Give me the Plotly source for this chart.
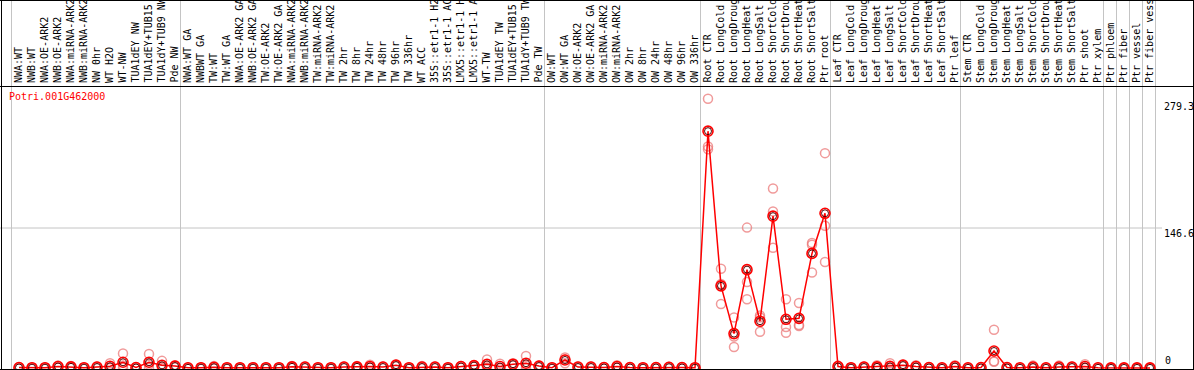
import plotly.graph_objects as go

gene = "Potri.001G462000"

labels = [
    "NWA:WT", "NWB:WT", "NWA:OE-ARK2", "NWB:OE-ARK2", "NWA:miRNA-ARK2", "NWB:miRNA-ARK2",
    "NW 0hr", "WT H2O", "WT-NW", "TUA1dEY NW", "TUA1dEY+TUB15 NW", "TUA1dY+TUB9 NW", "Pde NW",
    "NWA:WT GA", "NWBWT GA", "TW:WT", "TW:WT GA", "NWA:OE-ARK2 GA", "NWB:OE-ARK2 GA",
    "TW:OE-ARK2", "TW:OE-ARK2 GA", "NWA:miRNA-ARK2 GA", "NWB:miRNA-ARK2 GA", "TW:miRNA-ARK2",
    "TW:miRNA-ARK2", "TW 2hr", "TW 8hr", "TW 24hr", "TW 48hr", "TW 96hr", "TW 336hr", "WT ACC",
    "35S::etr1-1 H2O", "35S::etr1-1 ACC", "LMX5::etr1-1 H2O", "LMX5::etr1-1 ACC", "WT-TW",
    "TUA1dEY TW", "TUA1dEY+TUB15 TW", "TUA1dY+TUB9 TW", "Pde TW",
    "OW:WT", "OW:WT GA", "OW:OE-ARK2", "OW:OE-ARK2 GA", "OW:miRNA-ARK2", "OW:miRNA-ARK2",
    "OW 2hr", "OW 8hr", "OW 24hr", "OW 48hr", "OW 96hr", "OW 336hr",
    "Root CTR", "Root LongCold", "Root LongDrought", "Root LongHeat", "Root LongSalt",
    "Root ShortCold", "Root ShortDrought", "Root ShortHeat", "Root ShortSalt", "Ptr root",
    "Leaf CTR", "Leaf LongCold", "Leaf LongDrought", "Leaf LongHeat", "Leaf LongSalt",
    "Leaf ShortCold", "Leaf ShortDrought", "Leaf ShortHeat", "Leaf ShortSalt", "Ptr leaf",
    "Stem CTR", "Stem LongCold", "Stem LongDrought", "Stem LongHeat", "Stem LongSalt",
    "Stem ShortCold", "Stem ShortDrought", "Stem ShortHeat", "Stem ShortSalt", "Ptr shoot",
    "Ptr xylem",
    "Ptr phloem", "Ptr fiber", "Ptr vessel", "Ptr fiber vessel",
]

group_sizes = [13, 28, 12, 10, 10, 11, 1, 1, 1, 1]

mean_vals = [
    0.5, 0.3, 0.3, 1.5, 1.2, 0.3, 1.0, 1.8, 6.0, 0.5, 6.0, 2.8, 2.0,
    0.2, 0.3, 0.8, 0.3, 0.3, 0.3, 0.3, 0.3, 1.2, 1.0, 0.3, 0.3, 1.0, 1.2, 1.6, 1.0,
    3.0, 0.3, 1.0, 1.0, 0.3, 1.5, 2.5, 3.8, 1.5, 4.0, 5.0, 2.0,
    0.3, 8.4, 1.0, 1.0, 0.5, 1.5, 0.5, 0.3, 0.5, 0.8, 0.5, 0.3,
    248.0, 86.0, 36.0, 103.0, 49.0, 159.0, 51.0, 52.0, 120.0, 162.0,
    1.5, 0.3, 1.0, 1.2, 1.7, 3.0, 1.5, 0.5, 0.2, 1.5,
    0.2, 0.5, 17.8, 0.5, 0.2, 1.0, 0.2, 1.0, 1.0, 1.5, 0.2,
    0.1, 0.1, 0.1, 0.1,
]

rep_a = [
    0.8, 0.4, 0.4, 2.5, 2.0, 0.4, 1.5, 5.0, 15.3, 0.8, 14.6, 7.5, 3.0,
    0.3, 0.4, 2.0, 0.4, 0.4, 0.4, 0.4, 0.4, 2.2, 1.6, 0.4, 0.4, 1.5, 2.0, 3.5, 1.5,
    3.5, 0.4, 2.0, 1.5, 0.4, 2.0, 3.0, 9.0, 4.5, 5.0, 12.5, 2.5,
    0.4, 11.0, 1.5, 1.5, 0.8, 3.0, 0.8, 0.4, 0.8, 1.2, 0.8, 0.4,
    282.0, 104.0, 53.0, 147.0, 55.0, 188.0, 72.0, 68.0, 131.0, 225.0,
    2.5, 0.4, 1.5, 3.0, 5.0, 3.5, 3.0, 0.8, 0.3, 3.0,
    0.3, 0.8, 40.0, 0.8, 0.3, 2.5, 0.3, 2.5, 1.5, 4.0, 0.3,
    0.2, 0.2, 0.2, 0.2,
]

rep_b = [
    0.4, 0.3, 0.3, 1.2, 1.0, 0.3, 0.8, 0.5, 2.5, 0.4, 3.5, 1.0, 2.0,
    0.2, 0.3, 0.3, 0.3, 0.3, 0.3, 0.3, 0.3, 1.0, 0.8, 0.3, 0.3, 1.0, 1.0, 1.0, 1.0,
    3.0, 0.3, 0.6, 1.0, 0.3, 1.5, 2.5, 2.0, 0.0, 4.0, 2.5, 2.0,
    0.3, 9.0, 1.0, 1.0, 0.5, 1.0, 0.5, 0.3, 0.5, 0.8, 0.5, 0.3,
    232.0, 88.0, 33.0, 90.0, 53.0, 164.0, 43.0, 45.0, 129.0, 149.0,
    1.5, 0.3, 1.0, 0.5, 0.0, 3.0, 1.0, 0.5, 0.2, 1.0,
    0.2, 0.5, 7.0, 0.5, 0.2, 0.5, 0.2, 0.5, 1.0, 0.5, 0.2,
    0.1, 0.1, 0.1, 0.1,
]

rep_c = [
    0.3, 0.2, 0.2, 0.8, 0.6, 0.2, 0.7, 0.0, 0.2, 0.3, 0.0, 0.0, 1.0,
    0.1, 0.2, 0.1, 0.2, 0.2, 0.2, 0.2, 0.2, 0.4, 0.6, 0.2, 0.2, 0.5, 0.6, 0.3, 0.5,
    2.5, 0.2, 0.4, 0.5, 0.2, 1.0, 2.0, 0.4, 0.0, 3.0, 0.0, 1.5,
    0.2, 5.0, 0.5, 0.5, 0.2, 0.5, 0.2, 0.2, 0.2, 0.4, 0.2, 0.2,
    229.0, 67.0, 22.0, 72.0, 38.0, 126.0, 37.0, 44.0, 100.0, 111.0,
    0.5, 0.2, 0.5, 0.2, 0.0, 2.5, 0.5, 0.2, 0.1, 0.5,
    0.1, 0.2, 6.5, 0.2, 0.1, 0.0, 0.1, 0.0, 0.5, 0.0, 0.1,
    0.0, 0.0, 0.0, 0.0,
]

y_ticks = [279.3, 146.6, 0]
y_tick_text = ["279.3", "146.6", "0"]

# ---------------- layout geometry ----------------
W, H = 1194, 370
X0_PX, STEP_PX = 19.0, 13.0            # pixel of first column centre, column width
PX_PER_UNIT = 140.0 / 146.6
ZERO_PX = 368.0                         # pixel row of value 0

x_range = [(0 - X0_PX) / STEP_PX, (W - X0_PX) / STEP_PX]
y_range = [(ZERO_PX - H) / PX_PER_UNIT, ZERO_PX / PX_PER_UNIT]

xs = list(range(len(labels)))
FONT = "DejaVu Sans Mono"

fig = go.Figure()

rep_x, rep_y = [], []
for reps in (rep_a, rep_b, rep_c):
    rep_x += xs
    rep_y += reps

fig.add_trace(go.Scatter(
    x=rep_x, y=rep_y, mode="markers",
    marker=dict(symbol="circle-open", size=9, color="rgba(235,120,120,0.75)",
                line=dict(width=1.5, color="rgba(235,120,120,0.75)")),
    hoverinfo="skip", showlegend=False))

fig.add_trace(go.Scatter(
    x=xs, y=mean_vals, mode="lines",
    line=dict(color="#ff0000", width=1.5),
    hoverinfo="skip", showlegend=False))

fig.add_trace(go.Scatter(
    x=xs, y=mean_vals, mode="markers",
    marker=dict(symbol="circle-open", size=10, color="#ff0000",
                line=dict(width=1.6, color="#ff0000")),
    hoverinfo="skip", showlegend=False))

fig.add_trace(go.Scatter(
    x=xs, y=mean_vals, mode="markers",
    marker=dict(symbol="circle-open", size=7, color="#550000",
                line=dict(width=1, color="#550000")),
    hoverinfo="skip", showlegend=False))

shapes = []
# group separators
bounds = [0]
for g in group_sizes:
    bounds.append(bounds[-1] + g)
for b in bounds:
    xp = 11.5 + STEP_PX * b
    xv = (xp - X0_PX) / STEP_PX
    shapes.append(dict(type="line", xref="x", yref="paper", x0=xv, x1=xv, y0=0, y1=1,
                       line=dict(color="#c4c4c4", width=1), layer="below"))
# mid gridline
shapes.append(dict(type="line", xref="paper", yref="y", x0=0, x1=1162 / W,
                   y0=y_ticks[1], y1=y_ticks[1], line=dict(color="#c4c4c4", width=1),
                   layer="below"))
# frame
black = dict(color="#000000", width=1)
for yp in (0.5, 86.5, 369.5):
    shapes.append(dict(type="line", xref="paper", yref="paper", x0=0, x1=1,
                       y0=1 - yp / H, y1=1 - yp / H, line=black))
for xp in (1.5, 1193.5):
    shapes.append(dict(type="line", xref="paper", yref="paper", x0=xp / W, x1=xp / W,
                       y0=0, y1=1, line=black))

annotations = []
for i, lab in enumerate(labels):
    annotations.append(dict(
        x=i, xref="x", y=1 - 84 / H, yref="paper", text=lab, textangle=-90,
        showarrow=False, xanchor="center", yanchor="bottom", xshift=-1,
        font=dict(family=FONT, size=10, color="#000000"), borderpad=0))

annotations.append(dict(
    x=8 / W, xref="paper", y=1 - 90 / H, yref="paper", text=gene, showarrow=False,
    xanchor="left", yanchor="top", font=dict(family=FONT, size=10, color="#ff0000"),
    borderpad=0))

for v, t in zip(y_ticks, y_tick_text):
    annotations.append(dict(
        x=(1163 if t != "0" else 1164) / W, xref="paper", y=v, yref="y", text=t,
        showarrow=False, xanchor="left", yanchor=("bottom" if t == "0" else "top"),
        yshift=1, font=dict(family=FONT, size=10, color="#000000"),
        borderpad=0))

fig.update_layout(
    width=W, height=H, margin=dict(l=0, r=0, t=0, b=0),
    paper_bgcolor="#ffffff", plot_bgcolor="#ffffff",
    xaxis=dict(range=x_range, visible=False, fixedrange=True),
    yaxis=dict(range=y_range, visible=False, fixedrange=True),
    shapes=shapes, annotations=annotations, showlegend=False,
)

fig.write_html(
    "out.html",
    config={"displayModeBar": False},
    post_script="document.body.style.margin='0';document.body.style.padding='0';"
                "document.body.style.overflow='hidden';",
)
